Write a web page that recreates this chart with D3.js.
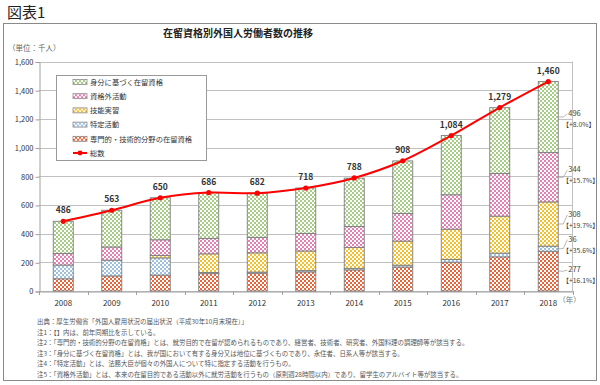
<!DOCTYPE html>
<html>
<head>
<meta charset="utf-8">
<script src="https://cdn.jsdelivr.net/npm/d3@7"></script>
<style>
  body { margin: 0; background: #fff; }
  svg { display: block; }
  text { font-family: "Noto Sans CJK JP", "Noto Sans", sans-serif; }
</style>
</head>
<body>
<svg id="chart" width="600" height="385"></svg>
<script>
// data (thousand persons)
var years = [2008, 2009, 2010, 2011, 2012, 2013, 2014, 2015, 2016, 2017, 2018];
var senmon   = [85, 105, 111, 121, 124, 133, 147, 167, 201, 238, 277];   // 専門的・技術的分野
var tokutei  = [96, 110, 120, 8, 8, 9, 11, 13, 19, 26, 36];               // 特定活動
var ginou    = [0, 0, 17, 130, 134, 137, 145, 168, 211, 258, 308];       // 技能実習
var shikaku  = [80, 92, 109, 108, 108, 122, 147, 192, 240, 297, 344];    // 資格外活動
var mibun    = [225, 256, 293, 319, 308, 317, 337, 367, 413, 459, 496];  // 身分に基づく
var totals   = [486, 563, 650, 686, 682, 718, 788, 908, 1084, 1279, 1460];
var yTicks = [0, 200, 400, 600, 800, 1000, 1200, 1400, 1600];

// 2018 annotations (bottom to top order like the stack)
var lastVals  = [277, 36, 308, 344, 496];
var lastRates = ["【+16.1%】", "【+35.6%】", "【+19.7%】", "【+15.7%】", "【+8.0%】"];

var seriesNames = ["専門的・技術的分野の在留資格", "特定活動", "技能実習", "資格外活動", "身分に基づく在留資格"];
var seriesData = [senmon, tokutei, ginou, shikaku, mibun];
var seriesColors = ["#ee6238", "#9dbfe0", "#f7bf2c", "#e87fb2", "#a6cd85"];

var notes = [
  "出典：厚生労働省「外国人雇用状況の届出状況（平成30年10月末現在）」",
  "注1：【】内は、前年同期比を示している。",
  "注2：「専門的・技術的分野の在留資格」とは、就労目的で在留が認められるものであり、経営者、技術者、研究者、外国料理の調理師等が該当する。",
  "注3：「身分に基づく在留資格」とは、我が国において有する身分又は地位に基づくものであり、永住者、日系人等が該当する。",
  "注4：「特定活動」とは、法務大臣が個々の外国人について特に指定する活動を行うもの。",
  "注5：「資格外活動」とは、本来の在留目的である活動以外に就労活動を行うもの（原則週28時間以内）であり、留学生のアルバイト等が該当する。"
];

var svg = d3.select("#chart");

// patterns
var defs = svg.append("defs");
seriesColors.forEach(function(c, i) {
  var p = defs.append("pattern")
    .attr("id", "pat" + i)
    .attr("patternUnits", "userSpaceOnUse")
    .attr("width", 4).attr("height", 4);
  p.append("rect").attr("width", 4).attr("height", 4).attr("fill", "#fff");
  p.append("rect").attr("width", 2).attr("height", 2).attr("fill", c);
  p.append("rect").attr("x", 2).attr("y", 2).attr("width", 2).attr("height", 2).attr("fill", c);
});

// headings
svg.append("text").attr("x", 7).attr("y", 18)
  .attr("font-size", 15).attr("fill", "#222").text("図表1");
svg.append("rect").attr("x", 3.5).attr("y", 23.5).attr("width", 593).attr("height", 357)
  .attr("fill", "none").attr("stroke", "#8a8a8a");
svg.append("text").attr("x", 163).attr("y", 37)
  .attr("font-size", 10).attr("font-weight", "bold").attr("fill", "#222")
  .text("在留資格別外国人労働者数の推移");
svg.append("text").attr("x", 8).attr("y", 51)
  .attr("font-size", 7.5).attr("fill", "#666").text("（単位：千人）");

// scales
var plotL = 39, plotR = 572.5, plotT = 61.5, plotB = 291;
var x = d3.scaleBand().domain(years).range([plotL, plotR]);
var y = d3.scaleLinear().domain([0, 1600]).range([plotB, plotT]);
var barW = 20;

// grid
svg.append("g").selectAll("line").data(yTicks).enter().append("line")
  .attr("x1", plotL).attr("x2", plotR)
  .attr("y1", function(d) { return Math.round(y(d)) + 0.5; })
  .attr("y2", function(d) { return Math.round(y(d)) + 0.5; })
  .attr("stroke", "#c0c0c0");
svg.append("line").attr("x1", plotR).attr("x2", plotR).attr("y1", plotT).attr("y2", plotB)
  .attr("stroke", "#c0c0c0");

// y axis
var yAxis = svg.append("g").attr("transform", "translate(" + (plotL + 0.5) + ",0.5)")
  .call(d3.axisLeft(y).tickValues(yTicks).tickFormat(d3.format(",")).tickSize(4));
yAxis.select(".domain").attr("stroke", "#a0a0a0");
yAxis.selectAll(".tick line").attr("stroke", "#a0a0a0");
yAxis.selectAll(".tick text").attr("font-family", "Liberation Serif")
  .attr("font-size", 7.5).attr("fill", "#333").attr("x", -6);

// x axis
var xAxis = svg.append("g").attr("transform", "translate(0," + (plotB + 0.5) + ")")
  .call(d3.axisBottom(x).tickSize(0).tickPadding(9));
xAxis.select(".domain").attr("stroke", "#a0a0a0");
xAxis.selectAll(".tick text").attr("font-family", "Lato").attr("font-size", 8).attr("fill", "#333");
svg.append("g").selectAll("line").data(years.concat([null])).enter().append("line")
  .attr("x1", function(d, i) { return Math.round(plotL + i * x.bandwidth()) + 0.5; })
  .attr("x2", function(d, i) { return Math.round(plotL + i * x.bandwidth()) + 0.5; })
  .attr("y1", plotB).attr("y2", plotB + 4)
  .attr("stroke", "#a0a0a0");
svg.append("text")
  .attr("x", x(2018) + x.bandwidth() / 2 + 10).attr("y", plotB + 12)
  .attr("font-size", 7.5).attr("fill", "#777").text("（年）");

// stacked bars
var rows = years.map(function(yr, i) {
  var r = {year: yr};
  seriesData.forEach(function(s, k) { r["s" + k] = s[i]; });
  return r;
});
var stack = d3.stack().keys(seriesData.map(function(s, k) { return "s" + k; }))(rows);

svg.append("g").selectAll("g").data(stack).enter().append("g")
  .attr("fill", function(d, k) { return "url(#pat" + k + ")"; })
  .selectAll("rect").data(function(d) { return d; }).enter().append("rect")
  .filter(function(d) { return d[1] > d[0]; })
  .attr("x", function(d) { return x(d.data.year) + (x.bandwidth() - barW) / 2; })
  .attr("y", function(d) { return y(d[1]); })
  .attr("width", barW)
  .attr("height", function(d) { return y(d[0]) - y(d[1]); })
  .attr("stroke", "#7f7f7f").attr("stroke-width", 0.9);

// total line
var cx = function(d, i) { return x(years[i]) + x.bandwidth() / 2; };
var line = d3.line().x(cx).y(function(d) { return y(d); }).curve(d3.curveCardinal);
svg.append("path").datum(totals).attr("d", line)
  .attr("fill", "none").attr("stroke", "#ff0000").attr("stroke-width", 2);
svg.append("g").selectAll("circle").data(totals).enter().append("circle")
  .attr("cx", cx).attr("cy", function(d) { return y(d); }).attr("r", 2.6)
  .attr("fill", "#ff0000");
svg.append("g").selectAll("text").data(totals).enter().append("text")
  .attr("x", cx).attr("y", function(d) { return y(d) - 8; })
  .attr("text-anchor", "middle").attr("font-family", "Lato").attr("font-weight", "bold")
  .attr("font-size", 8.5).attr("fill", "#333")
  .text(d3.format(","));

// 2018 annotations
var lastStack = stack.map(function(s) { return s[s.length - 1]; });
var labelShift = [-2, -10, -10, -8, -4];
var barRight = x(2018) + (x.bandwidth() + barW) / 2;
var ann = svg.append("g").selectAll("g").data(lastStack).enter().append("g");
ann.append("path")
  .attr("d", function(d, k) {
    var ym = y((d[0] + d[1]) / 2);
    return "M" + barRight + "," + ym + "L" + (barRight + 5) + "," + ym +
           "L" + (barRight + 9) + "," + (ym + labelShift[k] + 1);
  })
  .attr("fill", "none").attr("stroke", "#999").attr("stroke-width", 0.7);
ann.append("text")
  .attr("x", barRight + 10)
  .attr("y", function(d, k) { return y((d[0] + d[1]) / 2) + labelShift[k] + 3; })
  .attr("font-family", "Lato").attr("font-size", 7.5).attr("fill", "#444")
  .text(function(d, k) { return lastVals[k]; });
ann.append("text")
  .attr("x", barRight + 4)
  .attr("y", function(d, k) { return y((d[0] + d[1]) / 2) + labelShift[k] + 14; })
  .attr("font-size", 6.8).attr("fill", "#444")
  .text(function(d, k) { return lastRates[k]; });

// legend
var lg = svg.append("g");
lg.append("rect").attr("x", 56.5).attr("y", 75.5).attr("width", 150).attr("height", 85)
  .attr("fill", "#fff").attr("stroke", "#999");
var legItems = d3.range(seriesNames.length).reverse();
var li = lg.selectAll("g.item").data(legItems).enter().append("g")
  .attr("transform", function(d, i) { return "translate(73," + (82 + i * 14.2) + ")"; });
li.append("rect").attr("x", 0).attr("y", -2.5).attr("width", 14).attr("height", 5)
  .attr("fill", function(k) { return "url(#pat" + k + ")"; })
  .attr("stroke", "#7f7f7f").attr("stroke-width", 0.7);
li.append("text").attr("x", 17).attr("y", 2.8).attr("font-size", 7.3).attr("fill", "#333")
  .text(function(k) { return seriesNames[k]; });
var ltot = lg.append("g").attr("transform", "translate(73," + (82 + 5 * 14.2) + ")");
ltot.append("line").attr("x1", 0).attr("x2", 14).attr("stroke", "#ff0000").attr("stroke-width", 2);
ltot.append("circle").attr("cx", 7).attr("r", 2.4).attr("fill", "#ff0000");
ltot.append("text").attr("x", 17).attr("y", 2.8).attr("font-size", 7.3).attr("fill", "#333").text("総数");

// notes
svg.append("g").selectAll("text").data(notes).enter().append("text")
  .attr("x", 37).attr("y", function(d, i) { return 324 + i * 10.6; })
  .attr("font-size", 6.45).attr("fill", "#555")
  .text(function(d) { return d; });
</script>
</body>
</html>
